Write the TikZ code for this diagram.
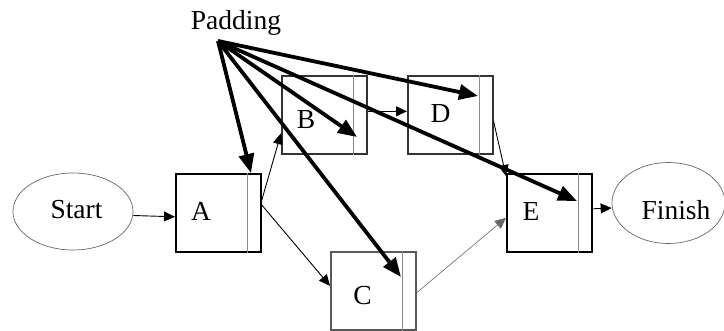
\documentclass[tikz,border=0pt]{standalone}
\usepackage{fontspec}
\setmainfont{Liberation Serif}
\usetikzlibrary{arrows.meta,shapes.geometric}
\begin{document}
\begin{tikzpicture}[x=1pt,y=-1pt,
  lbl/.style={font=\fontsize{27.5}{32}\selectfont,inner sep=0pt,anchor=base},
  task/.style={draw=black,line width=1.6pt,minimum width=85pt,minimum height=78pt,inner sep=0pt,anchor=north west},
  divider/.style={draw=black!45,line width=1.2pt},
  term/.style={draw=black!60,line width=0.7pt,ellipse,inner sep=0pt},
  thin/.style={draw=black,line width=0.9pt,-{Triangle[length=11pt,width=10pt]}},
  faint/.style={draw=black!60,line width=0.6pt,-{Triangle[length=11pt,width=10pt]}},
  thick/.style={draw=black,line width=3.8pt,-{Triangle[length=19pt,width=15pt]}}]
\useasboundingbox (0,0) rectangle (724,330);

% terminals
\node[term,minimum width=120pt,minimum height=77pt] (Start) at (73,211.5) {};
\node[term,minimum width=113pt,minimum height=81pt] (Finish) at (668.5,203) {};
\node[lbl] (tStart) at (76.5,218) {Start};
\node[lbl] (tFinish) at (676,219) {Finish};

% tasks
\node[task] (A) at (175,173) {};
\node[task,draw=black!80] (B) at (281,75) {};
\node[task,draw=black!65] (C) at (330,251) {};
\node[task,draw=black!80] (D) at (407,75) {};
\node[task] (E) at (506,173) {};
\foreach \n in {A,B,C,D,E}{
  \draw[divider] ([xshift=-14pt]\n.north east) -- ([xshift=-14pt]\n.south east);
}
\node[lbl] (tA) at (201,220) {A};
\node[lbl] (tB) at (306,128) {B};
\node[lbl] (tC) at (362.5,304) {C};
\node[lbl] (tD) at (440.5,122) {D};
\node[lbl] (tE) at (531,220) {E};

% padding
\node[lbl] (Padding) at (236,29) {Padding};
\coordinate (p) at (218,41);
\coordinate (pA) at (251,173);
\coordinate (pB) at (357,137);
\coordinate (pC) at (401,277);
\coordinate (pD) at (478,96);
\coordinate (pE) at (577,201);

% precedence connectors
\draw[thin] ([yshift=-4pt]Start.east) -- ([yshift=-4pt]A.west);
\draw[thin] ([yshift=12pt]A.east) -- ([yshift=-18.5pt]B.west);
\draw[thin] ([yshift=8pt]A.east) -- ([yshift=5pt]C.west);
\draw[thin] ([yshift=3.5pt]B.east) -- ([yshift=3.5pt]D.west);
\draw[thin] ([yshift=-6.5pt]D.east) -- ([yshift=-3pt]E.north west);
\draw[faint] ([yshift=-2pt]C.east) -- ([yshift=-5pt]E.west);
\draw[thin] ([yshift=4pt]E.east) -- ([yshift=-5pt]Finish.west);

% padding arrows
\draw[thick] (p) -- (pA);
\draw[thick] (p) -- (pB);
\draw[thick] (p) -- (pC);
\draw[thick] (p) -- (pD);
\draw[thick] (p) -- (pE);
\end{tikzpicture}
\end{document}
